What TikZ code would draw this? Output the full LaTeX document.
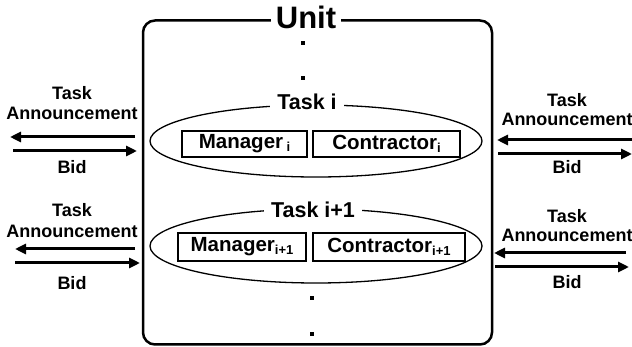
\documentclass[tikz,border=0pt]{standalone}
\usepackage{fontspec}
\setmainfont{Liberation Sans}
\usetikzlibrary{arrows.meta,shapes.geometric}
\tikzset{
  lbl/.style={font=\bfseries\fontsize{18}{19}\selectfont, inner sep=0pt},
  tasklbl/.style={font=\bfseries\fontsize{21.5}{23}\selectfont, fill=white, inner xsep=7pt, inner ysep=1pt},
  rolebox/.style={draw, line width=1.3pt, minimum height=26pt, inner sep=0pt, font=\bfseries\fontsize{20.5}{22}\selectfont},
  taskell/.style={draw, ellipse, line width=1.3pt, minimum width=332pt, minimum height=72pt, inner sep=0pt},
  msg/.style={line width=3pt, -{Triangle[length=11pt,width=10pt]}},
  dotsq/.style={fill=black, minimum size=4pt, inner sep=0pt, rectangle},
}
\newcommand{\subi}[1]{\raisebox{-3pt}{\fontsize{13}{14}\selectfont #1}}
\begin{document}
\begin{tikzpicture}[x=1pt,y=-1pt]
\useasboundingbox (0,0) rectangle (632,347);
% unit box
\node[draw, line width=2.5pt, rounded corners=12pt, minimum width=349pt, minimum height=324pt] (unit) at (317.5,182.5) {};
\node[font=\bfseries\fontsize{31}{33}\selectfont, fill=white, inner xsep=5pt, inner ysep=0pt] (unitlbl) at (306,17) {Unit};
% dots
\node[dotsq] (d1) at (303,43) {};
\node[dotsq] (d2) at (303,78) {};
\node[dotsq] (d3) at (312,298) {};
\node[dotsq] (d4) at (312,334) {};
% task i
\node[taskell] (e1) at (316,141) {};
\node[tasklbl] (t1) at (307,102) {Task i};
\node[rolebox, minimum width=125pt] (m1) at (244.5,144) {Manager\,\subi{i}};
\node[rolebox, minimum width=147pt] (c1) at (386.5,144) {Contractor\subi{i}};
% task i+1
\node[taskell, minimum height=74pt] (e2) at (316,246) {};
\node[tasklbl] (t2) at (313,210) {Task i+1};
\node[rolebox, minimum width=128pt, minimum height=28pt] (m2) at (242,247) {Manager\subi{i+1}};
\node[rolebox, minimum width=152pt, minimum height=28pt] (c2) at (389,247) {Contractor\subi{i+1}};
% left side
\node[lbl] (lt1) at (72,93) {Task};
\node[lbl] (la1) at (72,113) {Announcement};
\node[lbl] (lb1) at (72,167) {Bid};
\coordinate (la1s) at (135,137); \coordinate (la1e) at (10,137);
\coordinate (lb1s) at (13,151); \coordinate (lb1e) at (137,151);
\draw[msg] (la1s) -- (la1e);
\draw[msg] (lb1s) -- (lb1e);
\node[lbl] (lt2) at (72,210) {Task};
\node[lbl] (la2) at (72,231) {Announcement};
\node[lbl] (lb2) at (72,283) {Bid};
\coordinate (la2s) at (135,249); \coordinate (la2e) at (15,249);
\coordinate (lb2s) at (15,263); \coordinate (lb2e) at (140,263);
\draw[msg] (la2s) -- (la2e);
\draw[msg] (lb2s) -- (lb2e);
% right side
\node[lbl] (rt1) at (567,100) {Task};
\node[lbl] (ra1) at (567,119) {Announcement};
\node[lbl] (rb1) at (567,167) {Bid};
\coordinate (ra1s) at (632,140); \coordinate (ra1e) at (497,140);
\coordinate (rb1s) at (498,154); \coordinate (rb1e) at (632,154);
\draw[msg] (ra1s) -- (ra1e);
\draw[msg] (rb1s) -- (rb1e);
\node[lbl] (rt2) at (567,216) {Task};
\node[lbl] (ra2) at (567,235) {Announcement};
\node[lbl] (rb2) at (567,282) {Bid};
\coordinate (ra2s) at (626,253); \coordinate (ra2e) at (494,253);
\coordinate (rb2s) at (495,267); \coordinate (rb2e) at (629,267);
\draw[msg] (ra2s) -- (ra2e);
\draw[msg] (rb2s) -- (rb2e);
\end{tikzpicture}
\end{document}
